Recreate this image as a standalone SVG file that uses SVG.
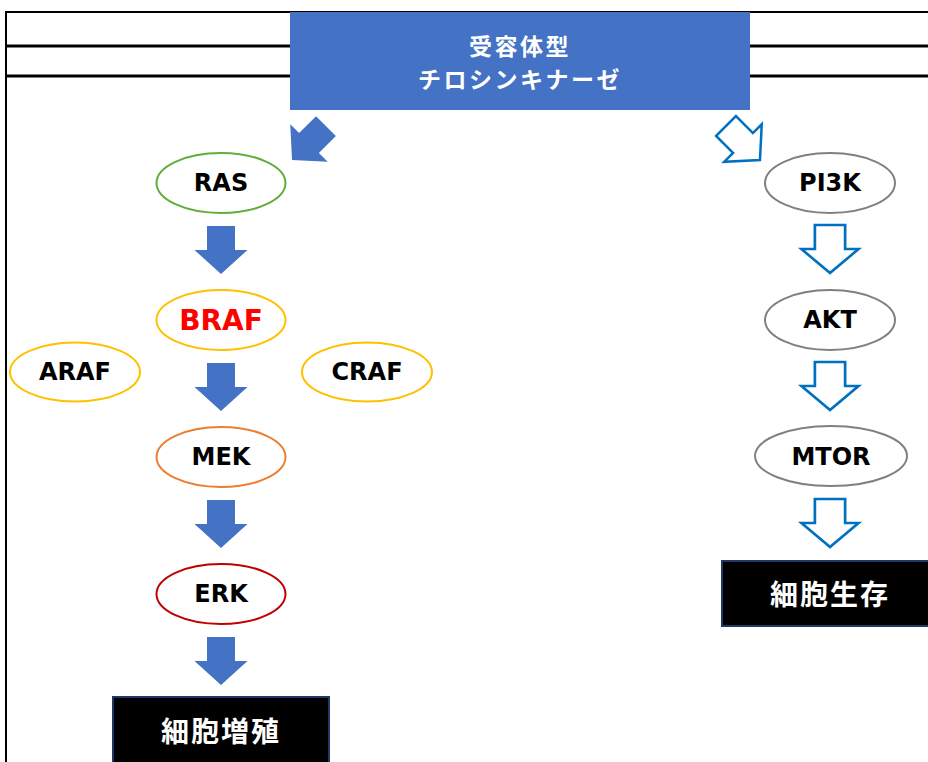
<svg xmlns="http://www.w3.org/2000/svg" width="928" height="762" viewBox="0 0 928 762">
<style>
.lbl{font-family:"DejaVu Sans","Liberation Sans",sans-serif;font-weight:bold;font-size:24px;fill:#000;text-anchor:middle;dominant-baseline:central}
.jp{font-family:"Noto Sans CJK JP","Noto Sans",sans-serif;font-weight:bold;fill:#fff;text-anchor:middle;dominant-baseline:central}
.ell{fill:#fff;stroke-width:2}
.fa{fill:#4472C4}
.oa{fill:#fff;stroke:#0070C0;stroke-width:2.5;stroke-linejoin:miter}
.box{fill:#000;stroke:#1F3864;stroke-width:2}
</style>
<defs>
<path id="arr" d="M-14,-24 L14,-24 L14,0 L26.5,0 L0,24 L-26.5,0 L-14,0 Z"/>
</defs>
<rect width="928" height="762" fill="#fff"/>
<g id="frame" fill="none" stroke="#000">
<path d="M6,762 V12 H928" stroke-width="2"/>
<path d="M6,46 H290 M750,46 H928 M6,76 H290 M750,76 H928" stroke-width="3"/>
</g>
<g id="rtk">
<rect x="290" y="12" width="460" height="98" fill="#4472C4"/>
<text class="jp" x="520" y="45" font-size="23" letter-spacing="2.5">受容体型</text>
<text class="jp" x="520" y="78" font-size="23" letter-spacing="2.5">チロシンキナーゼ</text>
</g>
<g id="connectors">
<use href="#arr" class="fa" transform="translate(309,143) rotate(45)"/>
<use href="#arr" class="oa" transform="translate(743,143) rotate(-45)"/>
<use href="#arr" class="fa" transform="translate(221,250)"/>
<use href="#arr" class="fa" transform="translate(221,387)"/>
<use href="#arr" class="fa" transform="translate(221,524)"/>
<use href="#arr" class="fa" transform="translate(221,661)"/>
<use href="#arr" class="oa" transform="translate(830,249) scale(1.08,1)"/>
<use href="#arr" class="oa" transform="translate(830,386) scale(1.08,1)"/>
<use href="#arr" class="oa" transform="translate(830,523) scale(1.08,1)"/>
</g>
<g id="RAS"><ellipse class="ell" cx="221" cy="183" rx="64.5" ry="30" stroke="#5FAD3B"/><text class="lbl" x="221" y="183">RAS</text></g>
<g id="BRAF"><ellipse class="ell" cx="221" cy="320" rx="64.5" ry="30" stroke="#FFC000"/><text class="lbl" x="221" y="320" style="fill:#FF0000;font-size:28px">BRAF</text></g>
<g id="ARAF"><ellipse class="ell" cx="75" cy="372" rx="65" ry="29.5" stroke="#FFC000"/><text class="lbl" x="75" y="372">ARAF</text></g>
<g id="CRAF"><ellipse class="ell" cx="367" cy="372" rx="65" ry="29.5" stroke="#FFC000"/><text class="lbl" x="367" y="372">CRAF</text></g>
<g id="MEK"><ellipse class="ell" cx="221" cy="457" rx="64.5" ry="30" stroke="#ED7D31"/><text class="lbl" x="221" y="457">MEK</text></g>
<g id="ERK"><ellipse class="ell" cx="221" cy="594" rx="64.5" ry="30" stroke="#C00000"/><text class="lbl" x="221" y="594">ERK</text></g>
<g id="PI3K"><ellipse class="ell" cx="830" cy="183" rx="65" ry="30" stroke="#808080"/><text class="lbl" x="830" y="183">PI3K</text></g>
<g id="AKT"><ellipse class="ell" cx="830" cy="320" rx="65" ry="30" stroke="#808080"/><text class="lbl" x="830" y="320">AKT</text></g>
<g id="MTOR"><ellipse class="ell" cx="831" cy="456" rx="76" ry="30" stroke="#808080"/><text class="lbl" x="831" y="457">MTOR</text></g>
<g id="prolif"><rect class="box" x="113" y="697" width="216" height="70"/><text class="jp" x="221" y="730" font-size="28" letter-spacing="2">細胞増殖</text></g>
<g id="survival"><rect class="box" x="722" y="561" width="216" height="65"/><text class="jp" x="830" y="593" font-size="28" letter-spacing="2">細胞生存</text></g>
</svg>
